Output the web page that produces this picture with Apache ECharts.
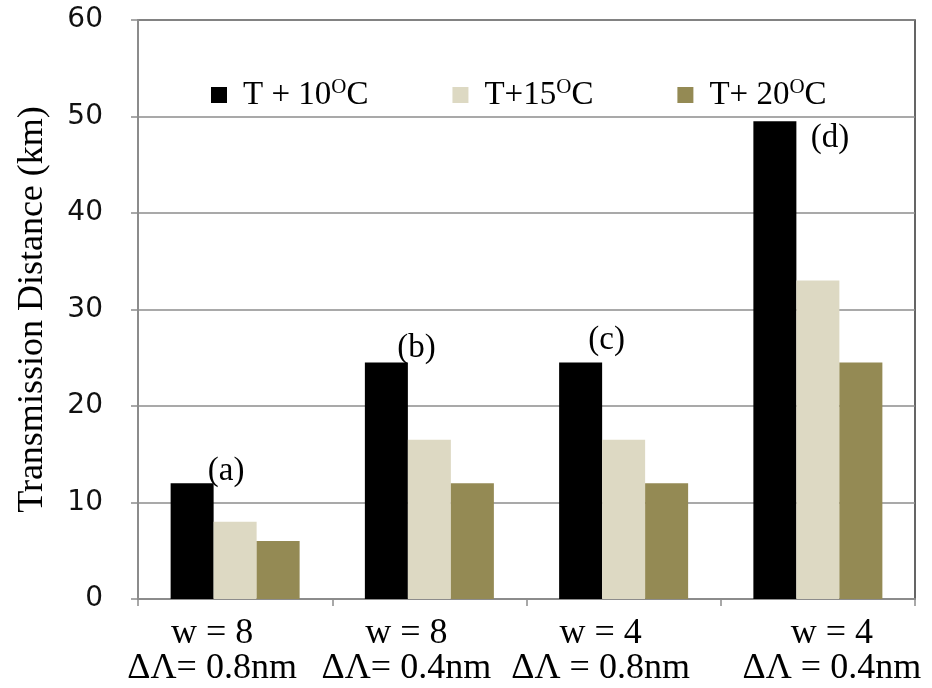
<!DOCTYPE html>
<html>
<head>
<meta charset="utf-8">
<script src="https://cdn.jsdelivr.net/npm/echarts@6/dist/echarts.min.js"></script>
<style>
  html, body { margin: 0; padding: 0; background: #fff; }
  #chart { width: 932px; height: 688px; }
</style>
</head>
<body>
<div id="chart"></div>
<script>
// categories (two-line axis labels)
var categories = ['w = 8\nΔΛ= 0.8nm', 'w = 8\nΔΛ= 0.4nm', 'w = 4\nΔΛ = 0.8nm', 'w = 4\nΔΛ = 0.4nm'];
var seriesNames = ['T + 10', 'T+15', 'T+ 20'];
// transmission distance (km)
var t10 = [12, 24.5, 24.5, 49.5];
var t15 = [8, 16.5, 16.5, 33];
var t20 = [6, 12, 12, 24.5];
var marks = ['(a)', '(b)', '(c)', '(d)'];
var yTicks = [0, 10, 20, 30, 40, 50, 60];

var colors = ['#000000', '#DDD9C3', '#948A54'];
var serif = 'Liberation Serif';

var chart = echarts.init(document.getElementById('chart'));

// where the (a)..(d) tags sit relative to the black bar tops
var markOffset = [[34, 10], [30, 7], [26, -1], [55, 39]];

var blackData = t10.map(function (v, i) {
  return {
    value: v,
    label: {
      show: true,
      position: 'top',
      offset: markOffset[i],
      formatter: marks[i],
      fontFamily: serif,
      fontSize: 33,
      color: '#000'
    }
  };
});

// labels in the original sit left of the tick centre, except the last one
var catPadding = [[0, 46, 0, 0], [0, 46, 0, 0], [0, 46, 0, 0], [0, 0, 0, 28]];
var catData = categories.map(function (c, i) {
  return { value: c, textStyle: { padding: catPadding[i] } };
});

var option = {
  animation: false,
  backgroundColor: '#fff',
  grid: {
    left: 138, right: 17, top: 20, bottom: 89,
    outerBoundsMode: 'none',
    containLabel: false,
    show: true,
    borderColor: '#333',
    borderWidth: 1.5
  },
  legend: {
    left: 206,
    top: 72,
    itemWidth: 16,
    itemHeight: 16,
    itemGap: 84,
    icon: 'rect',
    data: seriesNames,
    formatter: function (name) {
      return '{n|' + name + '}{s|O}{n|C}';
    },
    textStyle: {
      padding: [0, 0, 0, 11],
      rich: {
        n: { fontFamily: serif, fontSize: 33, lineHeight: 36, color: '#000' },
        s: { fontFamily: serif, fontSize: 21, lineHeight: 36, verticalAlign: 'top', color: '#000' }
      }
    }
  },
  xAxis: {
    type: 'category',
    data: catData,
    axisLine: { lineStyle: { color: '#8c8c8c', width: 2 } },
    axisTick: { show: true, length: 7, lineStyle: { color: '#8c8c8c', width: 1.5 } },
    axisLabel: {
      interval: 0,
      hideOverlap: false,
      margin: 17,
      fontFamily: serif,
      fontSize: 36,
      lineHeight: 35,
      color: '#000'
    }
  },
  yAxis: {
    type: 'value',
    min: 0,
    max: yTicks[yTicks.length - 1],
    interval: yTicks[1] - yTicks[0],
    name: 'Transmission Distance (km)',
    nameLocation: 'middle',
    nameGap: 87,
    nameTextStyle: { fontFamily: serif, fontSize: 36, color: '#000' },
    axisLine: { show: true, lineStyle: { color: '#8c8c8c', width: 2 } },
    axisTick: { show: true, length: 7, lineStyle: { color: '#8c8c8c', width: 1.5 } },
    axisLabel: {
      margin: 35,
      fontFamily: 'DejaVu Sans',
      fontSize: 28,
      color: '#111'
    },
    splitLine: { lineStyle: { color: '#8c8c8c', width: 1.5 } }
  },
  series: [
    { name: seriesNames[0], type: 'bar', barWidth: 43, barGap: '0%', itemStyle: { color: colors[0] }, data: blackData },
    { name: seriesNames[1], type: 'bar', barWidth: 43, barGap: '0%', itemStyle: { color: colors[1] }, data: t15 },
    { name: seriesNames[2], type: 'bar', barWidth: 43, barGap: '0%', itemStyle: { color: colors[2] }, data: t20 }
  ]
};

chart.setOption(option);
</script>
</body>
</html>
